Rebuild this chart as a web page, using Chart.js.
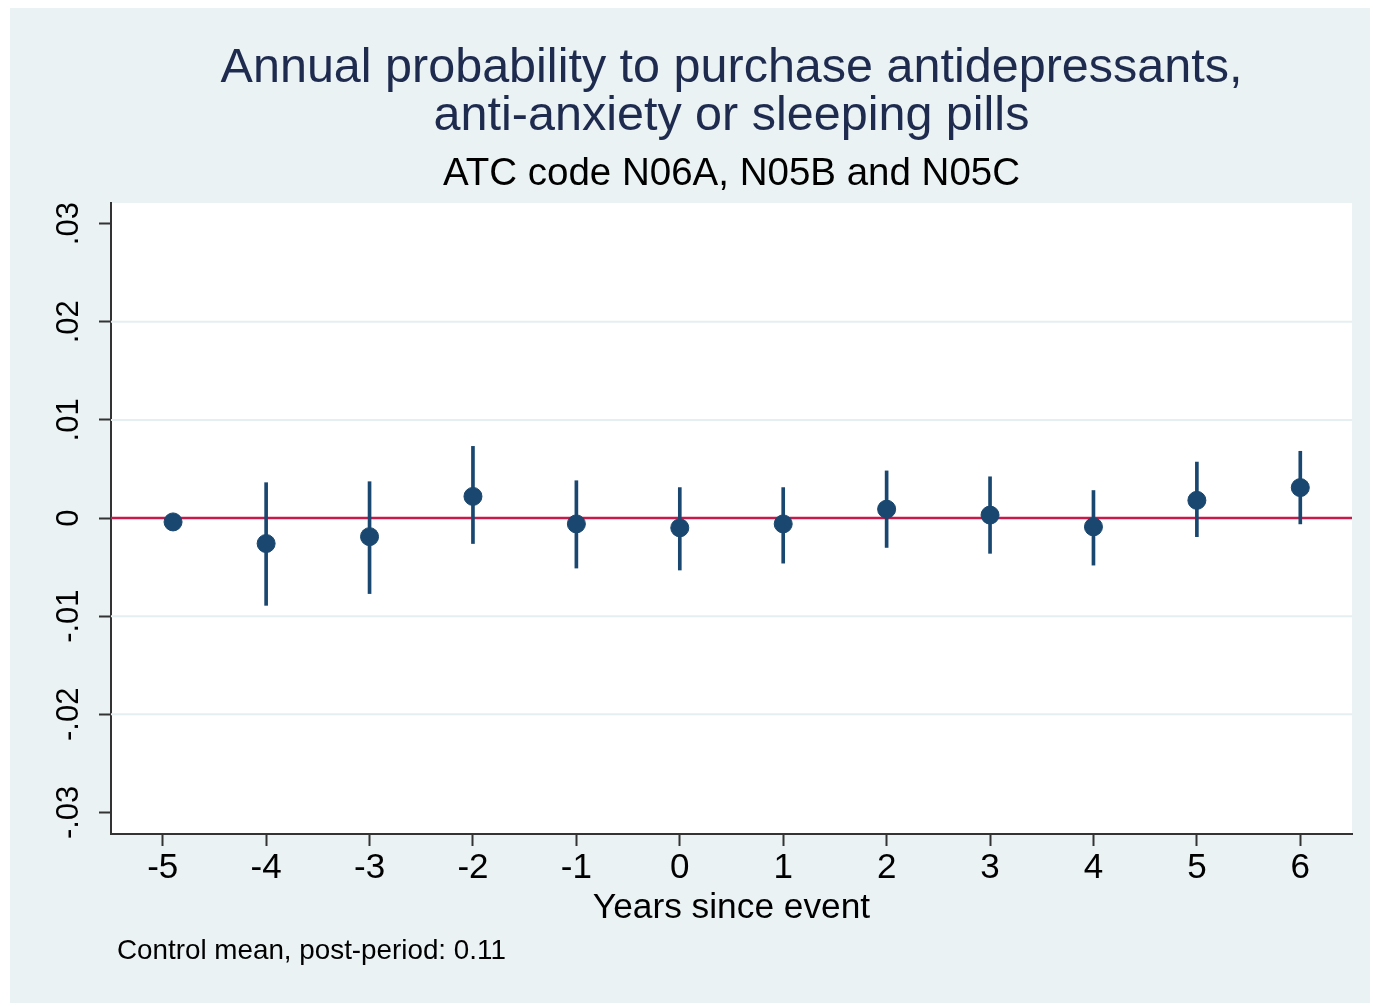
<!DOCTYPE html>
<html>
<head>
<meta charset="utf-8">
<script src="https://cdn.jsdelivr.net/npm/chart.js@4.4.1/dist/chart.umd.min.js"></script>
<style>
  html, body { margin: 0; padding: 0; background: #ffffff; }
  #wrap { width: 1373px; height: 1006px; position: relative; }
</style>
</head>
<body>
<div id="wrap"><canvas id="coefChart" width="1373" height="1006"></canvas></div>
<script>
// Datos
const years = [-5, -4, -3, -2, -1, 0, 1, 2, 3, 4, 5, 6];
// el punto de referencia (-5) aparece algo desplazado a la derecha
const pointX = [-4.9, -4, -3, -2, -1, 0, 1, 2, 3, 4, 5, 6];
const estimates = [-0.0004, -0.0026, -0.0019, 0.0022, -0.0006, -0.0010, -0.0006, 0.0009, 0.0003, -0.0009, 0.0018, 0.0031];
const ciLow = [null, -0.0089, -0.0077, -0.0026, -0.0051, -0.0053, -0.0046, -0.0030, -0.0036, -0.0048, -0.0019, -0.0006];
const ciHigh = [null, 0.0036, 0.0037, 0.0073, 0.0038, 0.0031, 0.0031, 0.0048, 0.0042, 0.0028, 0.0057, 0.0068];
const yTicks = [-0.03, -0.02, -0.01, 0, 0.01, 0.02, 0.03];
const yTickLabels = ['-.03', '-.02', '-.01', '0', '.01', '.02', '.03'];

const titleLines = ['Annual probability to purchase antidepressants,', 'anti-anxiety or sleeping pills'];
const subtitle = 'ATC code N06A, N05B and N05C';
const xTitle = 'Years since event';
const note = 'Control mean, post-period: 0.11';

const navy = '#1a476f';
const FONT = '"Liberation Sans", Arial, sans-serif';

// Fondo, títulos y etiquetas del eje y
const stataFrame = {
    id: 'stataFrame',
    beforeDraw(chart) {
        const c = chart.ctx;
        const a = chart.chartArea;
        c.save();
        c.fillStyle = '#ffffff';
        c.fillRect(0, 0, chart.width, chart.height);
        c.fillStyle = '#eaf2f3';
        c.fillRect(10, 8, 1360, 995);
        c.fillStyle = '#ffffff';
        c.fillRect(a.left, a.top, a.right - a.left, a.bottom - a.top);
        c.restore();
    },
    afterDraw(chart) {
        const c = chart.ctx;
        const a = chart.chartArea;
        const cx = (a.left + a.right) / 2;
        c.save();
        c.textAlign = 'center';
        c.textBaseline = 'middle';
        c.fillStyle = '#1e2b4f';
        c.font = '48.5px ' + FONT;
        c.fillText(titleLines[0], cx, 69);
        c.fillText(titleLines[1], cx, 117);
        c.fillStyle = '#000000';
        c.font = '38.5px ' + FONT;
        c.fillText(subtitle, cx, 174);
        c.font = '35.3px ' + FONT;
        c.fillText(xTitle, cx, 908);
        c.textAlign = 'left';
        c.font = '27.8px ' + FONT;
        c.fillText(note, 117, 951);

        // etiquetas verticales del eje y
        const ys = chart.scales.y;
        c.font = '31px ' + FONT;
        c.textAlign = 'center';
        yTicks.forEach((v, i) => {
            const py = ys.getPixelForValue(v);
            c.save();
            c.translate(69, py);
            c.rotate(-Math.PI / 2);
            c.fillText(yTickLabels[i], 0, 0);
            c.restore();
        });
        c.restore();
    }
};

const ctx = document.getElementById('coefChart').getContext('2d');
new Chart(ctx, {
    type: 'scatter',
    data: {
        datasets: [
            {
                type: 'line',
                data: [{ x: -5.5, y: 0 }, { x: 6.5, y: 0 }],
                borderColor: '#c8194a',
                borderWidth: 2.5,
                pointRadius: 0,
                order: 3
            },
            {
                type: 'bar',
                data: years.map((x, i) => ({ x: pointX[i], y: ciLow[i] === null ? null : [ciLow[i], ciHigh[i]] })),
                backgroundColor: navy,
                barThickness: 3,
                order: 2
            },
            {
                type: 'scatter',
                data: years.map((x, i) => ({ x: pointX[i], y: estimates[i] })),
                backgroundColor: navy,
                borderColor: navy,
                pointRadius: 9,
                pointHoverRadius: 9,
                order: 1
            }
        ]
    },
    options: {
        responsive: false,
        animation: false,
        events: [],
        layout: { padding: { left: 0, top: 203, right: 21, bottom: 0 } },
        plugins: { legend: { display: false }, title: { display: false }, tooltip: { enabled: false } },
        scales: {
            x: {
                type: 'linear',
                min: -5.5,
                max: 6.5,
                offset: false,
                afterBuildTicks: s => { s.ticks = years.map(v => ({ value: v })); },
                afterFit: s => { s.height = 172; },
                grid: { offset: false, drawOnChartArea: false, tickLength: 12, tickWidth: 2, color: '#333333' },
                border: { color: '#333333', width: 2 },
                ticks: {
                    font: { family: FONT, size: 35 },
                    color: '#000000',
                    padding: 1,
                    maxRotation: 0,
                    callback: v => String(v)
                }
            },
            y: {
                type: 'linear',
                min: -0.0322,
                max: 0.0321,
                afterBuildTicks: s => { s.ticks = yTicks.map(v => ({ value: v })); },
                afterFit: s => { s.width = 111; },
                grid: {
                    tickLength: 12,
                    tickWidth: 2,
                    color: '#333333',
                    drawOnChartArea: false
                },
                border: { color: '#333333', width: 2 },
                ticks: { color: 'rgba(0,0,0,0)', font: { size: 10 } }
            }
        }
    },
    plugins: [stataFrame, {
        // líneas de cuadrícula claras
        id: 'softGrid',
        beforeDatasetsDraw(chart) {
            const c = chart.ctx;
            const a = chart.chartArea;
            const ys = chart.scales.y;
            c.save();
            c.strokeStyle = '#e6eff0';
            c.lineWidth = 2;
            [-0.02, -0.01, 0.01, 0.02].forEach(v => {
                const py = ys.getPixelForValue(v);
                c.beginPath();
                c.moveTo(a.left, py);
                c.lineTo(a.right, py);
                c.stroke();
            });
            c.restore();
        }
    }]
});
</script>
</body>
</html>
